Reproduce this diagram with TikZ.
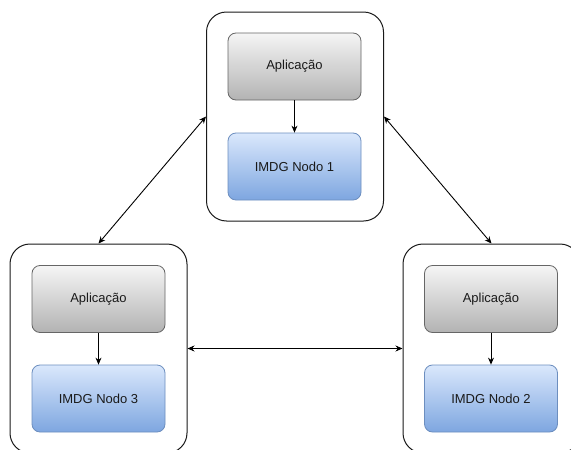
\documentclass[tikz,border=0pt]{standalone}
\usepackage{fontspec}
\setmainfont{Liberation Sans}
\usetikzlibrary{arrows.meta}
\definecolor{frameline}{HTML}{1A1A1A}
\definecolor{appline}{HTML}{666666}
\definecolor{apptop}{HTML}{F5F5F5}
\definecolor{appbot}{HTML}{B3B3B3}
\definecolor{gridline}{HTML}{6C8EBF}
\definecolor{gridtop}{HTML}{DAE8FC}
\definecolor{gridbot}{HTML}{7EA6E0}
\definecolor{labeltext}{HTML}{1A1A1A}
\begin{document}
\begin{tikzpicture}[x=1pt,y=-1pt,
  container/.style={draw=frameline, line width=1pt, rounded corners=20pt,
    minimum width=177pt, minimum height=209pt, inner sep=0pt},
  appbox/.style={draw=appline, line width=0.8pt, rounded corners=8pt,
    top color=apptop, bottom color=appbot, text=labeltext,
    minimum width=133pt, minimum height=67pt, inner sep=0pt,
    font=\fontsize{13}{15}\selectfont},
  gridbox/.style={draw=gridline, line width=0.8pt, rounded corners=8pt,
    top color=gridtop, bottom color=gridbot, text=labeltext,
    minimum width=133pt, minimum height=67pt, inner sep=0pt,
    font=\fontsize{13}{15}\selectfont},
  flow/.style={-{Stealth[length=7pt,width=6pt]}, line width=0.9pt, black},
  link/.style={{Stealth[length=7pt,width=6pt]}-{Stealth[length=7pt,width=6pt]}, line width=0.9pt, black}]
  \useasboundingbox (0,0) rectangle (571,450);
  \clip (0,0) rectangle (571,450);
  \fill[white] (0,0) rectangle (571,450);

  % outer member frames
  \node[container] (m1) at (295,116.5) {};
  \node[container] (m3) at (98.5,348.5) {};
  \node[container] (m2) at (491.5,348.5) {};

  % member 1
  \node[appbox]  (a1) at (294.5,66.5)  {Aplicação};
  \node[gridbox] (g1) at (294.5,166.5) {IMDG Nodo 1};
  % member 3
  \node[appbox]  (a3) at (98.5,299)   {Aplicação};
  \node[gridbox] (g3) at (98.5,398.5) {IMDG Nodo 3};
  % member 2
  \node[appbox]  (a2) at (491,299)    {Aplicação};
  \node[gridbox] (g2) at (491,398.5)  {IMDG Nodo 2};

  % application to local grid node
  \draw[flow] (a1) -- (g1);
  \draw[flow] (a3) -- (g3);
  \draw[flow] (a2) -- (g2);

  % links between members
  \draw[link] (m1.west) -- (m3.north);
  \draw[link] (m1.east) -- (m2.north);
  \draw[link] (m3.east) -- (m2.west);
\end{tikzpicture}
\end{document}
